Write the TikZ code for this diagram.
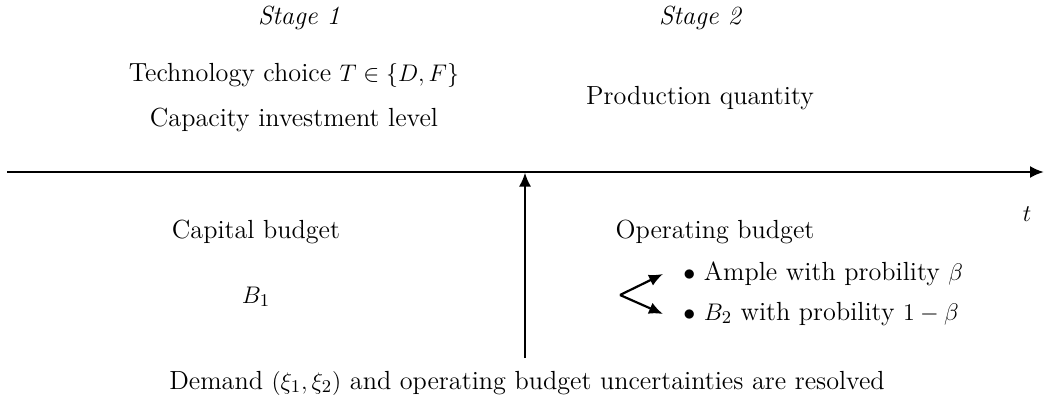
\documentclass[tikz,border=0pt]{standalone}
\usetikzlibrary{arrows.meta}
\begin{document}
\begin{tikzpicture}[x=0.5pt,y=-0.5pt,
  txt/.style={anchor=base,inner sep=0pt,font=\fontsize{13.1}{15.7}\selectfont},
  ltxt/.style={txt,anchor=base west},
  axis/.style={line width=1.1pt,-{Latex[length=7pt,width=6pt]}},
  br/.style={line width=1.1pt,-{Latex[length=7pt,width=6pt]}}]
\useasboundingbox (0,0) rectangle (1044,412);
\node[txt] (s1) at (299,25) {\itshape Stage 1};
\node[txt] (s2) at (700,25) {\itshape Stage 2};
\node[txt] (tc) at (294,81) {Technology choice $T\in\{D,F\}$};
\node[txt] (ci) at (294,126) {Capacity investment level};
\node[txt] (pq) at (700,104) {Production quantity};
\coordinate (l0) at (7,172);
\coordinate (l1) at (1044,172);
\draw[axis] (l0) -- (l1);
\node[txt] (t) at (1027,221) {$t$};
\coordinate (v0) at (525,358);
\coordinate (v1) at (525,172.5);
\draw[axis] (v0) -- (v1);
\node[txt] (cb) at (256,238) {Capital budget};
\node[txt] (b1) at (256,303) {$B_1$};
\node[txt] (ob) at (715,238) {Operating budget};
\node[ltxt] (am) at (683,280) {$\bullet$ Ample with probility $\beta$};
\node[ltxt] (b2) at (683,320) {$\bullet$ $B_2$ with probility $1-\beta$};
\coordinate (vx) at (620,295);
\coordinate (up) at (663,274);
\coordinate (dn) at (663,314);
\draw[br] (vx) -- (up);
\draw[br] (vx) -- (dn);
\node[txt] (dm) at (527,389) {Demand $(\xi_1,\xi_2)$ and operating budget uncertainties are resolved};
\end{tikzpicture}
\end{document}
